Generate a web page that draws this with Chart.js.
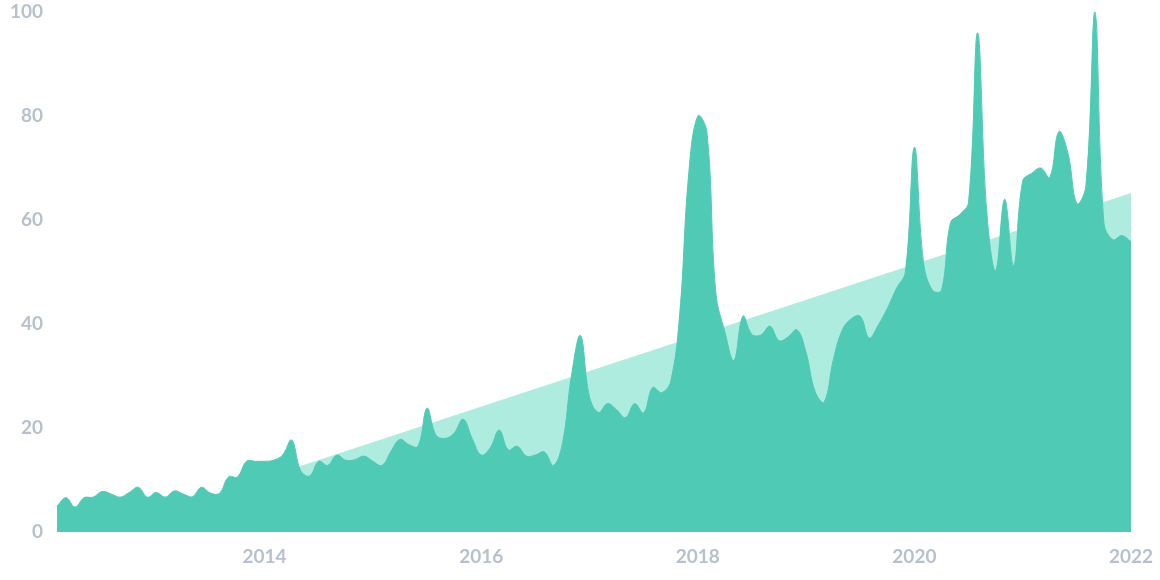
<!DOCTYPE html>
<html>
<head>
<meta charset="utf-8">
<script src="https://cdn.jsdelivr.net/npm/chart.js@4/dist/chart.umd.min.js"></script>
<style>
  html, body { margin: 0; padding: 0; background: #fff; }
  #trendChart { display: block; }
</style>
</head>
<body>
<canvas id="trendChart" width="1160" height="580"></canvas>
<script>
    // monthly points, Feb 2012 .. Jan 2022
    var months = [];
    for (var y = 2012; y <= 2022; y++) {
        for (var m = 1; m <= 12; m++) {
            if (y == 2012 && m == 1) continue;
            if (y == 2022 && m > 1) break;
            months.push(y + '-' + (m < 10 ? '0' + m : m));
        }
    }

    var interest = [
        5.0, 6.6, 4.8, 6.6, 6.7, 7.8, 7.3, 6.7, 7.6, 8.6, 6.7,
        7.6, 6.7, 7.9, 7.3, 6.8, 8.6, 7.5, 7.4, 10.6, 10.6, 13.6, 13.6,
        13.6, 13.8, 14.8, 17.7, 11.8, 10.8, 13.6, 12.8, 14.8, 13.8, 13.9, 14.6,
        13.6, 12.8, 15.5, 17.8, 16.8, 16.5, 23.8, 18.6, 18.0, 19.0, 21.7, 18.0,
        14.8, 16.2, 19.6, 15.8, 16.5, 14.6, 14.8, 15.4, 12.8, 17.0, 30.0, 37.8,
        26.0, 23.0, 24.7, 23.5, 22.0, 24.7, 22.9, 27.8, 26.8, 29.0, 42.0, 69.0,
        80.0, 77.0, 46.0, 38.5, 33.0, 41.5, 38.0, 37.9, 39.6, 36.8, 37.5, 38.9,
        34.5, 27.0, 25.0, 33.0, 38.8, 41.0, 41.5, 37.3, 39.8, 43.0, 46.8, 50.0,
        74.0, 52.0, 46.5, 46.5, 59.5, 61.0, 63.4, 96.0, 62.0, 50.3, 64.0, 51.2,
        67.5, 69.0, 70.0, 68.2, 77.0, 73.0, 63.2, 66.5, 100.0, 59.5, 56.2, 57.0,
        55.8
    ];

    // straight trend, first and last month only
    var trendEnds = [-2.7, 65.2];

    var yTicks = [0, 20, 40, 60, 80, 100];
    var yearTicks = ['2014', '2016', '2018', '2020', '2022'];

    var ctx = document.getElementById('trendChart').getContext('2d');
    var chart = new Chart(ctx, {
        type: 'line',
        data: {
            labels: months,
            datasets: [{
                label: 'interest',
                data: interest,
                borderColor: 'rgb(79,203,181)',
                backgroundColor: 'rgb(79,203,181)',
                borderWidth: 1,
                pointRadius: 0,
                tension: 0.4,
                fill: 'origin'
            }, {
                label: 'trend',
                data: [
                    { x: months[0], y: trendEnds[0] },
                    { x: months[months.length - 1], y: trendEnds[1] }
                ],
                borderColor: 'rgb(174,236,224)',
                backgroundColor: 'rgb(174,236,224)',
                borderWidth: 0,
                pointRadius: 0,
                tension: 0,
                fill: 'origin'
            }]
        },
        options: {
            responsive: false,
            animation: false,
            layout: {
                padding: { top: 12, right: 29, bottom: 0, left: 0 }
            },
            plugins: {
                legend: { display: false },
                tooltip: { enabled: false }
            },
            scales: {
                x: {
                    type: 'category',
                    offset: false,
                    grid: { display: false, drawTicks: false },
                    border: { display: false },
                    afterFit: function (scale) {
                        scale.height = 48;
                        scale.paddingLeft = 0;
                        scale.paddingRight = 0;
                    },
                    ticks: {
                        autoSkip: false,
                        maxRotation: 0,
                        padding: 13,
                        color: '#b7c1cd',
                        font: { family: 'Lato', size: 19, weight: 'bold' },
                        callback: function (val) {
                            var lab = this.getLabelForValue(val);
                            var yr = lab.slice(0, 4);
                            if (lab.slice(5) == '01' && yearTicks.indexOf(yr) >= 0) return yr;
                            return '';
                        }
                    }
                },
                y: {
                    min: 0,
                    max: 100,
                    grid: { display: false, drawTicks: false },
                    border: { display: false },
                    afterFit: function (scale) {
                        scale.width = 57;
                        scale.paddingTop = 0;
                        scale.paddingBottom = 0;
                    },
                    afterBuildTicks: function (scale) {
                        scale.ticks = yTicks.map(function (v) { return { value: v }; });
                    },
                    ticks: {
                        padding: 14,
                        color: '#b7c1cd',
                        font: { family: 'Lato', size: 19, weight: 'bold' }
                    }
                }
            }
        }
    })
</script>
</body>
</html>
